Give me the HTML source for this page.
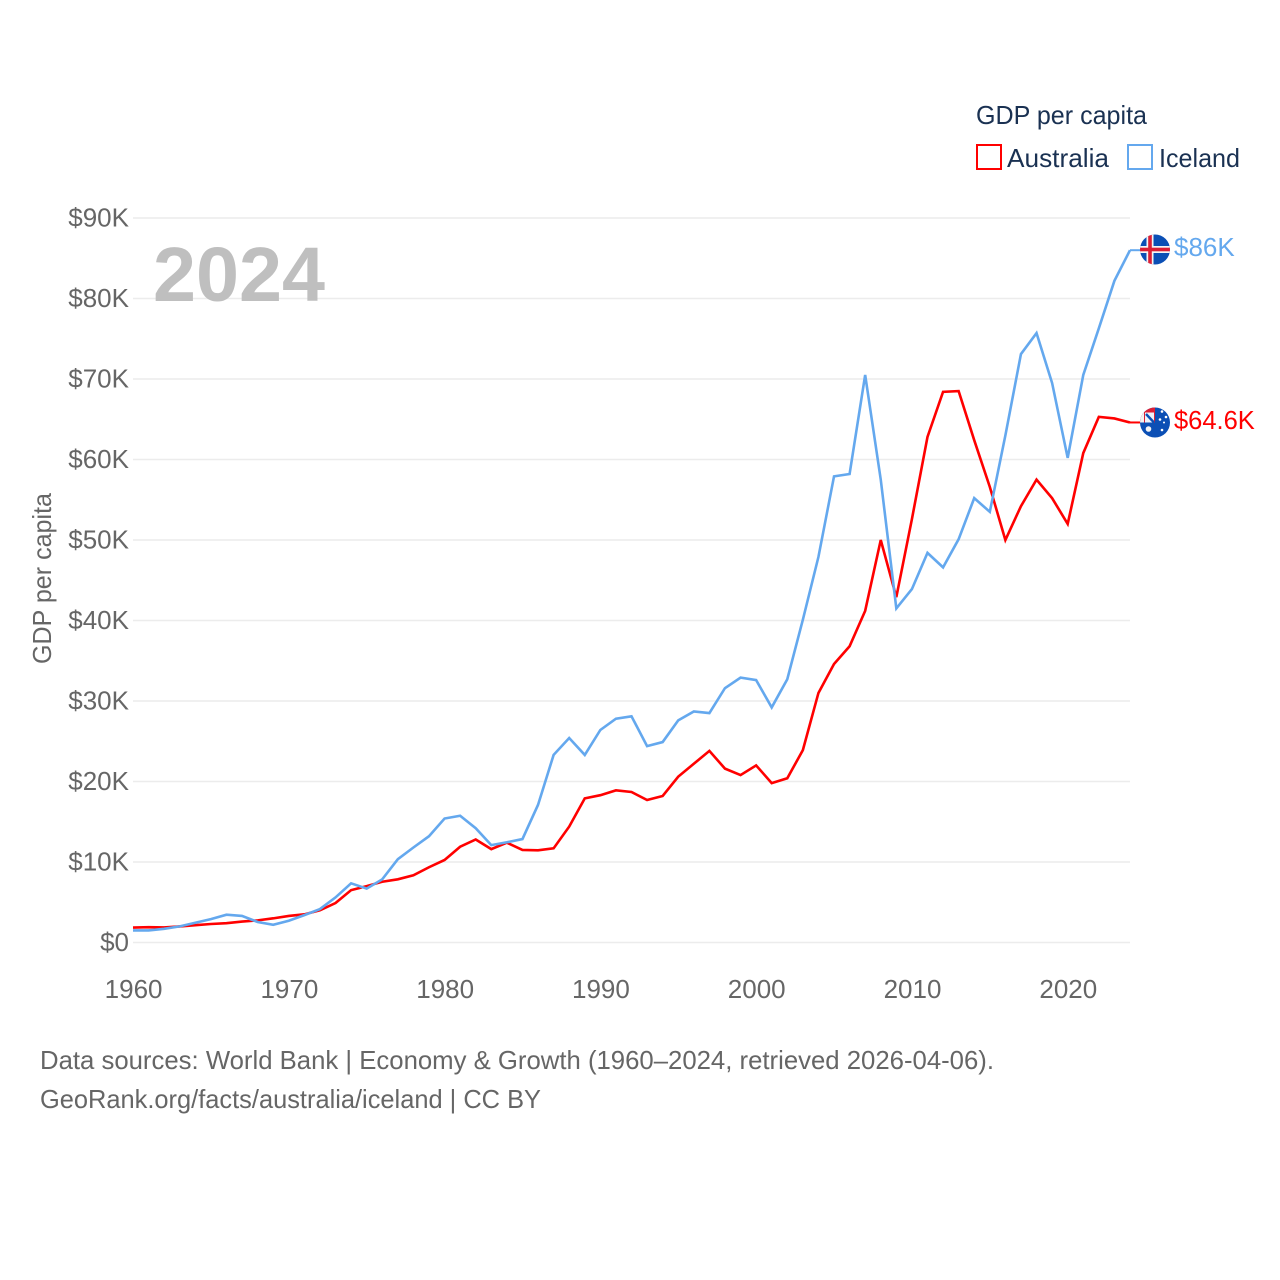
<!DOCTYPE html>
<html lang="en">
<head>
<meta charset="utf-8">
<title>GDP per capita: Australia and Iceland</title>
<style>
html,body{margin:0;padding:0;background:#fff;}
#chart{display:block;width:1280px;height:1280px;font-family:"Liberation Sans",sans-serif;}
.tick{font-size:26px;fill:#666;}
.legend{font-size:26px;fill:#1a3152;}
.source{font-size:26px;fill:#666;}
</style>
</head>
<body>
<svg id="chart" xmlns="http://www.w3.org/2000/svg" width="1280" height="1280" viewBox="0 0 1280 1280">
  <rect width="1280" height="1280" fill="#fff"/>
  <g id="grid"></g>
  <g id="yticks"></g>
  <g id="xticks"></g>
  <text x="153" y="301" font-size="77" font-weight="700" fill="#bfbfbf" textLength="172" lengthAdjust="spacingAndGlyphs">2024</text>
  <text class="tick" transform="translate(51,578.5) rotate(-90)" text-anchor="middle" textLength="171" lengthAdjust="spacingAndGlyphs">GDP per capita</text>
  <g id="series"></g>

  <g>
    <text class="legend" x="976" y="124" textLength="171" lengthAdjust="spacingAndGlyphs">GDP per capita</text>
    <g>
      <rect x="977" y="145" width="24" height="24" fill="none" stroke="#ff0000" stroke-width="2"/>
      <text class="legend" x="1007" y="167" textLength="102" lengthAdjust="spacingAndGlyphs">Australia</text>
    </g>
    <g>
      <rect x="1128" y="145" width="24" height="24" fill="none" stroke="#64a8ee" stroke-width="2"/>
      <text class="legend" x="1159" y="167" textLength="81" lengthAdjust="spacingAndGlyphs">Iceland</text>
    </g>
  </g>

  <defs>
    <clipPath id="clip-is"><circle cx="1155" cy="249.5" r="15"/></clipPath>
    <clipPath id="clip-au"><circle cx="1155" cy="422.5" r="15"/></clipPath>
  </defs>
  <g id="end-labels"></g>
  <g clip-path="url(#clip-is)">
    <rect x="1140" y="234" width="30" height="31" fill="#0b4fb5"/>
    <rect x="1146.500" y="234" width="7" height="31" fill="#f4f4f4"/>
    <rect x="1140" y="246" width="30" height="7" fill="#f4f4f4"/>
    <rect x="1148.200" y="234" width="3.600" height="31" fill="#dc1e35"/>
    <rect x="1140" y="247.700" width="30" height="3.600" fill="#dc1e35"/>
  </g>
  <g clip-path="url(#clip-au)">
    <rect x="1140" y="407" width="30" height="31" fill="#0b4fb5"/>
    <rect x="1140" y="407" width="15" height="15.5" fill="#dc1e35"/>
    <rect x="1140" y="412" width="4" height="10.500" fill="#f2f2f2"/>
    <rect x="1145" y="412.500" width="9" height="10" fill="#eef2fa"/>
    <path d="M1146 414 L1154 422.500" stroke="#0b4fb5" stroke-width="2.400"/>
    <circle cx="1148.500" cy="429" r="2.800" fill="#f4f4f4"/>
    <circle cx="1162" cy="411.500" r="1.300" fill="#fff"/>
    <circle cx="1166" cy="417" r="1.300" fill="#fff"/>
    <circle cx="1160" cy="419.500" r="1.300" fill="#fff"/>
    <circle cx="1164" cy="422.500" r="1" fill="#fff"/>
    <circle cx="1162" cy="430" r="1.300" fill="#fff"/>
  </g>

  <text class="source" x="40" y="1069" textLength="954" lengthAdjust="spacingAndGlyphs">Data sources: World Bank | Economy &amp; Growth (1960–2024, retrieved 2026-04-06).</text>
  <text class="source" x="40" y="1108" textLength="501" lengthAdjust="spacingAndGlyphs">GeoRank.org/facts/australia/iceland | CC BY</text>
</svg>
<script>
const firstYear = 1960;
const yTickValues = [0, 10, 20, 30, 40, 50, 60, 70, 80, 90];
const yTickLabels = ['$0', '$10K', '$20K', '$30K', '$40K', '$50K', '$60K', '$70K', '$80K', '$90K'];
const xTickYears = [1960, 1970, 1980, 1990, 2000, 2010, 2020];
const australiaValues = [1.85, 1.9, 1.87, 2.0, 2.15, 2.3, 2.4, 2.6, 2.75, 3.0, 3.3, 3.5, 4.0, 4.9, 6.5, 7.0, 7.55, 7.85, 8.35, 9.35, 10.25, 11.9, 12.8, 11.6, 12.4, 11.5, 11.45, 11.7, 14.4, 17.9, 18.3, 18.9, 18.7, 17.7, 18.2, 20.6, 22.2, 23.8, 21.6, 20.8, 22.0, 19.8, 20.4, 23.9, 31.0, 34.6, 36.8, 41.2, 50.0, 42.9, 52.6, 62.8, 68.4, 68.5, 62.4, 56.6, 50.0, 54.2, 57.5, 55.2, 52.0, 60.8, 65.3, 65.1, 64.6];
const icelandValues = [1.5, 1.5, 1.7, 2.0, 2.45, 2.9, 3.45, 3.3, 2.55, 2.2, 2.7, 3.4, 4.15, 5.6, 7.35, 6.7, 7.85, 10.35, 11.8, 13.2, 15.4, 15.75, 14.2, 12.1, 12.45, 12.85, 17.1, 23.3, 25.4, 23.3, 26.4, 27.8, 28.1, 24.4, 24.9, 27.6, 28.7, 28.5, 31.6, 32.9, 32.6, 29.2, 32.7, 40.1, 47.9, 57.9, 58.2, 70.5, 57.5, 41.5, 43.9, 48.4, 46.6, 50.1, 55.2, 53.5, 63.0, 73.1, 75.7, 69.5, 60.2, 70.5, 76.3, 82.2, 86.0];
const australiaEndLabel = '$64.6K';
const icelandEndLabel = '$86K';

const NS = 'http://www.w3.org/2000/svg';
const xScale = function (year) { return 133 + (year - 1960) * (997 / 64); };
const yScale = function (value) { return 942.5 - value * (724.5 / 90); };

function make(tag, parent) {
  const el = document.createElementNS(NS, tag);
  parent.appendChild(el);
  return el;
}

const gridGroup = document.getElementById('grid');
const yTickGroup = document.getElementById('yticks');
yTickValues.forEach(function (value, i) {
  const line = make('line', gridGroup);
  
  
  line.setAttribute('x1', 133);
  line.setAttribute('x2', 1130);
  line.setAttribute('y1', yScale(value));
  line.setAttribute('y2', yScale(value));
  line.setAttribute('stroke', '#ececec');
  line.setAttribute('stroke-width', '1.6');

  const label = make('text', yTickGroup);
  
  
  label.setAttribute('class', 'tick');
  label.setAttribute('x', 129);
  label.setAttribute('y', yScale(value) + 8.5);
  label.setAttribute('text-anchor', 'end');
  label.textContent = yTickLabels[i];
});

const xTickGroup = document.getElementById('xticks');
xTickYears.forEach(function (year) {
  const label = make('text', xTickGroup);
  
  
  label.setAttribute('class', 'tick');
  label.setAttribute('x', xScale(year) + 0.6);
  label.setAttribute('y', 998);
  label.setAttribute('text-anchor', 'middle');
  label.textContent = String(year);
});

function linePoints(values) {
  return values.map(function (value, i) {
    return xScale(firstYear + i).toFixed(2) + ',' + yScale(value).toFixed(2);
  }).join(' ');
}

const seriesGroup = document.getElementById('series');
const labelGroup = document.getElementById('end-labels');

const australiaLine = make('polyline', seriesGroup);


australiaLine.setAttribute('points', linePoints(australiaValues));
australiaLine.setAttribute('fill', 'none');
australiaLine.setAttribute('stroke', '#ff0000');
australiaLine.setAttribute('stroke-width', '2.6');
australiaLine.setAttribute('stroke-linejoin', 'miter');

const icelandLine = make('polyline', seriesGroup);


icelandLine.setAttribute('points', linePoints(icelandValues));
icelandLine.setAttribute('fill', 'none');
icelandLine.setAttribute('stroke', '#64a8ee');
icelandLine.setAttribute('stroke-width', '2.6');
icelandLine.setAttribute('stroke-linejoin', 'miter');

const australiaStub = make('line', seriesGroup);


australiaStub.setAttribute('x1', xScale(2024));
australiaStub.setAttribute('x2', 1142);
australiaStub.setAttribute('y1', yScale(australiaValues[64]));
australiaStub.setAttribute('y2', yScale(australiaValues[64]));
australiaStub.setAttribute('stroke', '#ff0000');
australiaStub.setAttribute('stroke-width', '2');

const icelandStub = make('line', seriesGroup);


icelandStub.setAttribute('x1', xScale(2024));
icelandStub.setAttribute('x2', 1142);
icelandStub.setAttribute('y1', yScale(icelandValues[64]));
icelandStub.setAttribute('y2', yScale(icelandValues[64]));
icelandStub.setAttribute('stroke', '#64a8ee');
icelandStub.setAttribute('stroke-width', '2');

const australiaLabel = make('text', labelGroup);


australiaLabel.setAttribute('x', 1174);
australiaLabel.setAttribute('y', 429);
australiaLabel.setAttribute('font-size', '25.5');
australiaLabel.setAttribute('fill', '#ff0000');
australiaLabel.textContent = australiaEndLabel;

const icelandLabel = make('text', labelGroup);


icelandLabel.setAttribute('x', 1174);
icelandLabel.setAttribute('y', 256);
icelandLabel.setAttribute('font-size', '26');
icelandLabel.setAttribute('fill', '#64a8ee');
icelandLabel.textContent = icelandEndLabel;
</script>
</body>
</html>
